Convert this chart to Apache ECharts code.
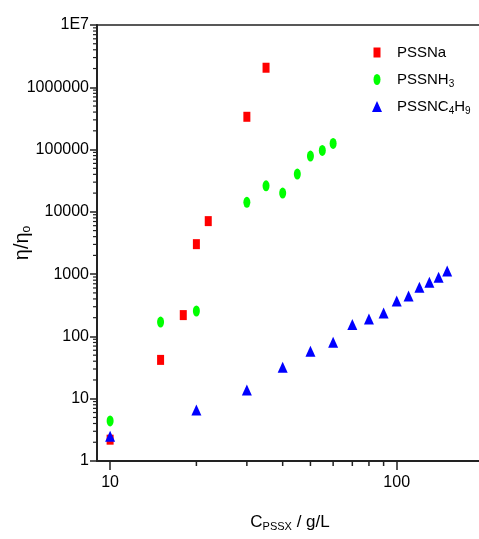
<!DOCTYPE html>
<html><head><meta charset="utf-8">
<script src="https://cdn.jsdelivr.net/npm/echarts@6/dist/echarts.min.js"></script>
<style>html,body{margin:0;padding:0;background:#fff}#c{width:479px;height:539px}</style>
</head><body><div id="c"></div>
<script>
// Data (x in g/L, y = eta/eta0)
const naX = [10, 15, 18, 20, 22, 30, 35];
const naY = [2.2, 42, 220, 3030, 7100, 336000, 2060000];
const nh3X = [10, 15, 20, 30, 35, 40, 45, 50, 55, 60];
const nh3Y = [4.4, 170, 256, 14200, 26200, 20000, 40400, 78700, 97000, 125600];
const c4X = [10, 20, 30, 40, 50, 60, 70, 80, 90, 100, 110, 120, 130, 140, 150];
const c4Y = [2.5, 6.6, 13.8, 31.9, 57.7, 80.4, 156, 190, 237, 370, 445, 614, 738, 889, 1122];

const xMajorTicks = [10, 100];
const xMinorTicks = [20, 30, 40, 50, 60, 70, 80, 90];
const yMajorTicks = [1, 10, 100, 1000, 10000, 100000, 1000000, 10000000];
const yTickLabels = ['1', '10', '100', '1000', '10000', '100000', '1000000', '1E7'];
const yMinorTicks = [];
for (let k = 0; k < 7; k++) for (let m = 2; m <= 9; m++) yMinorTicks.push(m * Math.pow(10, k));

const X_MIN = 9, X_MAX = 200, Y_MIN = 1, Y_MAX = 1e7;
const FONT = '"Liberation Sans", Arial, sans-serif';
const AX = '#222';
const ellipse = 'path://M0,-1A1,1 0 1,1 0,1A1,1 0 1,1 0,-1z';

const zip = (xs, ys) => xs.map((x, i) => [x, ys[i]]);

const chart = echarts.init(document.getElementById('c'), null, {renderer: 'canvas'});
const mkRich = (pw) => ({
  p: {width: pw, lineHeight: 20},
  a: {fontFamily: FONT, fontSize: 15, color: '#000', lineHeight: 20},
  s: {fontFamily: FONT, fontSize: 10, color: '#000', lineHeight: 20, padding: [9, 0, 0, 0]}
});
const mkLegend = (name, icon, left, top, w, h, pw) => ({
  data: [{name: name, icon: icon, symbolKeepAspect: false}],
  left: left, top: top, orient: 'vertical',
  itemWidth: w, itemHeight: h, padding: 0, symbolKeepAspect: false,
  itemStyle: {opacity: 1},
  textStyle: {fontFamily: FONT, fontSize: 15, color: '#000', rich: mkRich(pw)},
  formatter: n => {
    if (n === 'PSSNa') return '{p|}{a|PSSNa}';
    if (n === 'PSSNH3') return '{p|}{a|PSSNH}{s|3}';
    return '{p|}{a|PSSNC}{s|4}{a|H}{s|9}';
  }
});

chart.setOption({
  animation: false,
  backgroundColor: '#fff',
  grid: {left: 97, top: 25, width: 386, height: 436, containLabel: false, outerBoundsMode: 'none'},
  legend: [
    mkLegend('PSSNa', 'rect', 373.5, 45, 7, 10, 11.5),
    mkLegend('PSSNH3', ellipse, 373.5, 70, 7, 11, 11.5),
    mkLegend('PSSNC4H9', 'triangle', 372, 97, 10, 11, 10)
  ],
  xAxis: [
    {
      type: 'log', min: X_MIN, max: X_MAX, position: 'bottom',
      axisLine: {show: true, lineStyle: {color: AX, width: 2}},
      axisTick: {show: true, customValues: xMajorTicks, length: 9, inside: false, lineStyle: {color: AX, width: 1.5}},
      axisLabel: {customValues: xMajorTicks, margin: 14, fontFamily: FONT, fontSize: 16, color: '#000',
        formatter: v => String(Math.round(v))},
      splitLine: {show: false}, minorTick: {show: false},
      name: '{a|C}{s|PSSX}{a| / g/L}', nameLocation: 'middle', nameGap: 50, nameMoveOverlap: false,
      nameTextStyle: {fontFamily: FONT, fontSize: 17, color: '#000',
        rich: {a: {fontFamily: FONT, fontSize: 17, color: '#000', lineHeight: 22},
               s: {fontFamily: FONT, fontSize: 11, color: '#000', lineHeight: 22, padding: [10, 0, 0, 0]}}}
    },
    {
      type: 'log', min: X_MIN, max: X_MAX, position: 'top',
      axisLine: {show: true, lineStyle: {color: AX, width: 1.5}},
      axisTick: {show: false}, axisLabel: {show: false}, splitLine: {show: false}
    }
  ],
  yAxis: [
    {
      type: 'log', min: Y_MIN, max: Y_MAX, position: 'left',
      axisLine: {show: true, lineStyle: {color: AX, width: 2}},
      axisTick: {show: true, customValues: yMajorTicks, length: 7, lineStyle: {color: AX, width: 1.5}},
      axisLabel: {customValues: yMajorTicks, margin: 8, fontFamily: FONT, fontSize: 16, color: '#000',
        formatter: v => { const i = yMajorTicks.findIndex(t => Math.abs(t - v) / t < 1e-6); return i >= 0 ? yTickLabels[i] : ''; }},
      splitLine: {show: false}, minorTick: {show: false},
      name: '{a|η/η}{s|o}', nameLocation: 'middle', nameGap: 63, nameRotate: 90, nameMoveOverlap: false,
      nameTextStyle: {fontFamily: FONT, fontSize: 20, color: '#000',
        rich: {a: {fontFamily: FONT, fontSize: 20, color: '#000', lineHeight: 24},
               s: {fontFamily: FONT, fontSize: 12, color: '#000', lineHeight: 24, padding: [10, 0, 0, 0]}}}
    }
  ],
  series: [
    {name: 'PSSNa', type: 'scatter', xAxisIndex: 0, yAxisIndex: 0, data: zip(naX, naY),
     symbol: 'rect', symbolSize: [7, 10], symbolKeepAspect: false, itemStyle: {color: '#ff0000', opacity: 1}},
    {name: 'PSSNH3', type: 'scatter', xAxisIndex: 0, yAxisIndex: 0, data: zip(nh3X, nh3Y),
     symbol: ellipse, symbolSize: [7, 11], symbolKeepAspect: false, itemStyle: {color: '#00ff00', opacity: 1}},
    {name: 'PSSNC4H9', type: 'scatter', xAxisIndex: 0, yAxisIndex: 0, data: zip(c4X, c4Y),
     symbol: 'triangle', symbolSize: [10, 11], symbolKeepAspect: false, itemStyle: {color: '#0000ff', opacity: 1}},
    // minor ticks on the x axis (log positions 20..90)
    {name: 'xMinor', type: 'custom', xAxisIndex: 0, yAxisIndex: 0, silent: true, clip: false,
     data: xMinorTicks.map(v => [v, Y_MIN]),
     renderItem: (params, api) => {
       const p = api.coord([api.value(0), api.value(1)]);
       return {type: 'line', shape: {x1: p[0], y1: p[1], x2: p[0], y2: p[1] + 5},
               style: {stroke: AX, lineWidth: 1.5}};
     }},
    // minor ticks on the y axis (2..9 of each decade)
    {name: 'yMinor', type: 'custom', xAxisIndex: 0, yAxisIndex: 0, silent: true, clip: false,
     data: yMinorTicks.map(v => [X_MIN, v]),
     renderItem: (params, api) => {
       const p = api.coord([api.value(0), api.value(1)]);
       return {type: 'line', shape: {x1: p[0], y1: p[1], x2: p[0] - 4, y2: p[1]},
               style: {stroke: AX, lineWidth: 1.2}};
     }}
  ]
});
</script></body></html>
